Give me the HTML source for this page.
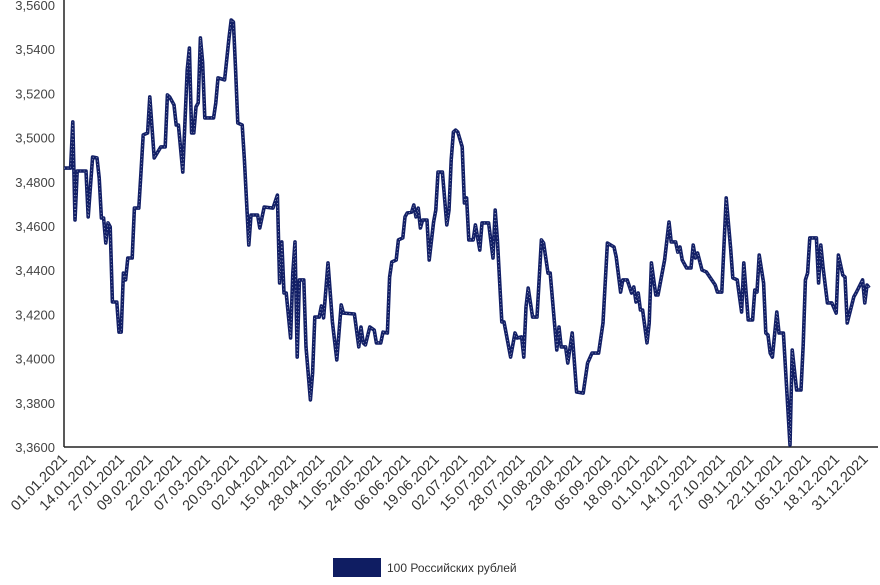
<!DOCTYPE html>
<html><head><meta charset="utf-8"><style>
body{margin:0;background:#fff;}
svg{display:block;font-family:"Liberation Sans",sans-serif;}
</style></head><body>
<svg id="chart" width="880" height="585" viewBox="0 0 880 585" xmlns="http://www.w3.org/2000/svg">
<g id="yax"></g>
<g id="xax"></g>
<g id="plot"></g>
<g>
<rect x="333" y="558" width="48" height="19" fill="#0f1d62"/>
<text x="387" y="572" font-size="12" fill="#333">100 Российских рублей</text>
</g>
</svg>
<script>
const days=[0,3,4,5,6,10,11,13,15,16,17,18,19,20,21,22,24,25,26,27,28,29,31,32,34,35,36,38,39,41,44,46,47,48,50,51,52,54,56,57,58,59,60,61,62,63,64,68,69,70,73,75,76,77,78,79,81,82,84,85,88,89,91,95,97,98,99,100,101,103,104,105,106,107,109,110,112,113,114,116,117,118,120,122,124,126,127,132,134,135,136,137,139,141,142,144,145,147,148,149,151,152,154,155,156,158,159,160,161,162,163,165,166,168,169,170,172,174,175,176,177,178,179,181,182,183,184,186,187,189,190,193,195,196,197,199,200,203,205,206,208,209,210,211,213,215,217,218,220,221,224,225,226,228,229,231,233,236,238,240,243,245,247,250,251,253,254,256,258,259,260,261,262,263,265,266,267,269,270,273,275,276,278,279,280,281,283,285,286,287,288,290,292,296,297,299,301,303,304,306,308,309,311,313,314,315,316,318,319,320,321,322,324,325,327,330,331,333,335,336,337,338,339,342,343,344,345,347,349,351,352,354,355,356,359,360,363,364,365,366];
const values=[3.4862,3.4862,3.5071,3.4627,3.4849,3.4849,3.4641,3.4912,3.4908,3.4817,3.4636,3.4636,3.4523,3.4614,3.4596,3.4256,3.4256,3.4120,3.4120,3.4387,3.4356,3.4455,3.4455,3.4681,3.4681,3.4844,3.5012,3.5021,3.5184,3.4908,3.4958,3.4958,3.5193,3.5184,3.5148,3.5057,3.5057,3.4844,3.5306,3.5405,3.5021,3.5021,3.5139,3.5157,3.5451,3.5342,3.5089,3.5089,3.5157,3.5270,3.5261,3.5451,3.5532,3.5523,3.5306,3.5066,3.5057,3.4899,3.4514,3.4650,3.4650,3.4591,3.4686,3.4681,3.4740,3.4342,3.4528,3.4297,3.4297,3.4093,3.4387,3.4528,3.4007,3.4356,3.4356,3.4053,3.3813,3.3935,3.4188,3.4188,3.4238,3.4184,3.4433,3.4166,3.3994,3.4243,3.4206,3.4202,3.4053,3.4143,3.4071,3.4062,3.4143,3.4129,3.4071,3.4071,3.4120,3.4116,3.4369,3.4437,3.4446,3.4537,3.4546,3.4641,3.4659,3.4663,3.4695,3.4641,3.4681,3.4591,3.4627,3.4627,3.4446,3.4618,3.4672,3.4844,3.4844,3.4605,3.4672,3.4899,3.5025,3.5034,3.5025,3.4958,3.4704,3.4727,3.4537,3.4537,3.4605,3.4491,3.4614,3.4614,3.4455,3.4672,3.4537,3.4166,3.4166,3.4007,3.4116,3.4093,3.4098,3.4007,3.4234,3.4319,3.4188,3.4188,3.4537,3.4523,3.4387,3.4387,3.4039,3.4143,3.4053,3.4053,3.3980,3.4116,3.3849,3.3844,3.3980,3.4025,3.4025,3.4161,3.4523,3.4505,3.4460,3.4301,3.4356,3.4356,3.4297,3.4324,3.4256,3.4297,3.4220,3.4220,3.4071,3.4161,3.4433,3.4288,3.4288,3.4446,3.4618,3.4528,3.4528,3.4482,3.4505,3.4446,3.4410,3.4410,3.4514,3.4455,3.4478,3.4401,3.4392,3.4333,3.4301,3.4301,3.4727,3.4500,3.4365,3.4356,3.4211,3.4433,3.4175,3.4175,3.4310,3.4301,3.4469,3.4342,3.4116,3.4107,3.4025,3.4007,3.4211,3.4116,3.4116,3.3609,3.4039,3.3858,3.3858,3.4062,3.4356,3.4387,3.4546,3.4546,3.4342,3.4514,3.4415,3.4252,3.4252,3.4206,3.4469,3.4378,3.4369,3.4161,3.4279,3.4297,3.4356,3.4252,3.4333,3.4320];
const yTicks=[3.36,3.38,3.40,3.42,3.44,3.46,3.48,3.50,3.52,3.54,3.56];
const xTickLabels=["01.01.2021","14.01.2021","27.01.2021","09.02.2021","22.02.2021","07.03.2021","20.03.2021","02.04.2021","15.04.2021","28.04.2021","11.05.2021","24.05.2021","06.06.2021","19.06.2021","02.07.2021","15.07.2021","28.07.2021","10.08.2021","23.08.2021","05.09.2021","18.09.2021","01.10.2021","14.10.2021","27.10.2021","09.11.2021","22.11.2021","05.12.2021","18.12.2021","31.12.2021"];
const xTickDays=[0,13,26,39,52,65,78,91,104,117,130,143,156,169,182,195,208,221,234,247,260,273,286,299,312,325,338,351,364];

const NS="http://www.w3.org/2000/svg";
const X0=64,PX=2.2,Y0=447,YS=2210,VMIN=3.36;
function xs(d){return X0+d*PX;}
function ys(v){return Y0-(v-VMIN)*YS;}
function mk(t,a){const e=document.createElementNS(NS,t);for(const k in a)e.setAttribute(k,a[k]);return e;}
const yax=document.getElementById('yax'),xax=document.getElementById('xax'),plot=document.getElementById('plot');
yTicks.forEach(v=>{
  const t=mk('text',{x:55,y:ys(v)+5,'text-anchor':'end','font-size':'13',fill:'#444'});
  
  
  t.textContent=v.toFixed(4).replace('.',',');
  yax.appendChild(t);
});
const al=mk('line',{x1:X0,y1:0,x2:X0,y2:Y0,stroke:'#222','stroke-width':1.5});


yax.appendChild(al);
const bl=mk('line',{x1:X0,y1:Y0,x2:878,y2:Y0,stroke:'#222','stroke-width':1.5});


xax.appendChild(bl);
xTickLabels.forEach((s,i)=>{
  const x=xs(xTickDays[i])+4,y=Y0+13;
  const t=mk('text',{x:x,y:y,'text-anchor':'end','font-size':'14.5',fill:'#333',transform:`rotate(-45 ${x} ${y})`});
  
  
  t.textContent=s;
  xax.appendChild(t);
});
const pts=days.map((d,i)=>xs(d).toFixed(1)+','+ys(values[i]).toFixed(1)).join(' ');
const ln=mk('polyline',{points:pts,fill:'none',stroke:'#121f66','stroke-width':3.6,'stroke-linejoin':'round'});


plot.appendChild(ln);
const ln2=mk('polyline',{points:pts,fill:'none',stroke:'#fff','stroke-width':0.6,'stroke-dasharray':'1 2.5',opacity:0.8});


plot.appendChild(ln2);
</script>
</body></html>
